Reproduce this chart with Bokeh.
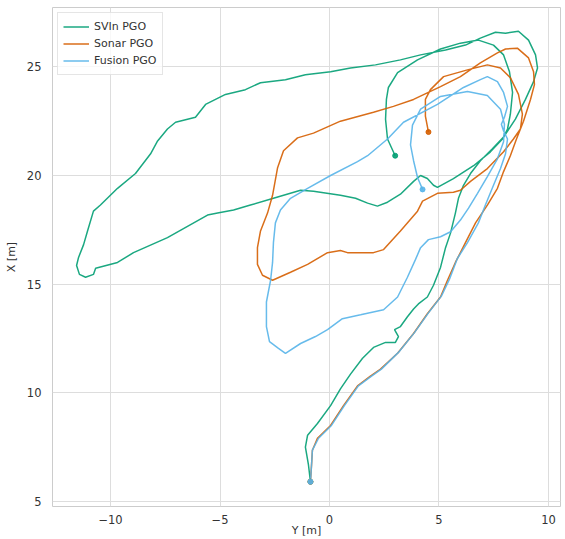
from bokeh.plotting import figure
from bokeh.embed import file_html
from bokeh.resources import INLINE
from bokeh.models import FixedTicker

# ---- data (Y [m] on horizontal axis, X [m] on vertical axis) ----
svin_y = [-0.87, -0.96, -1.10, -1.00, -0.55, 0.05, 0.50, 0.96, 1.51, 2.01, 2.56, 3.01, 3.15, 2.97, 3.24,
          3.56, 3.84, 4.06, 4.47, 4.75, 5.07, 5.30, 5.53, 5.75, 5.89, 6.12, 6.44, 6.89, 7.44, 7.95,
          8.49, 8.95, 9.32, 9.50, 9.41, 9.09, 8.63, 8.04, 7.58, 6.89, 6.21, 5.30, 4.16, 3.24, 2.10,
          0.96, 0.05, -1.10, -2.01, -3.15, -3.84, -4.75, -5.66, -6.12, -7.03, -7.40, -7.85, -8.17, -8.86, -9.68,
          -10.46, -10.78, -11.05, -11.23, -11.46, -11.55, -11.42, -11.14, -10.78, -10.68, -9.68, -8.95, -7.40, -5.57, -5.11,
          -4.38, -3.61, -2.56, -1.32, -0.73, 0.50, 1.19, 1.74, 2.19, 2.65, 3.24, 3.84, 4.16, 4.47, 4.75,
          4.93, 5.66, 6.58, 7.35, 7.90, 8.13, 8.26, 8.36, 8.22, 7.95, 7.49, 6.80, 5.98, 5.07, 4.02,
          3.11, 2.69, 2.60, 2.56, 2.65, 3.00]
svin_x = [5.91, 6.68, 7.50, 8.05, 8.59, 9.41, 10.18, 10.86, 11.59, 12.09, 12.32, 12.32, 12.59, 12.91, 13.05,
          13.50, 13.86, 14.09, 14.41, 14.95, 15.77, 16.68, 17.36, 18.27, 18.95, 19.55, 20.09, 20.68, 21.23, 21.77,
          22.59, 23.50, 24.32, 24.95, 25.55, 26.23, 26.64, 26.55, 26.59, 26.32, 26.00, 25.77, 25.55, 25.32, 25.09,
          24.95, 24.77, 24.64, 24.41, 24.27, 23.95, 23.73, 23.27, 22.68, 22.45, 22.14, 21.59, 21.00, 20.09, 19.41,
          18.64, 18.36, 17.45, 16.82, 16.23, 15.86, 15.45, 15.32, 15.45, 15.73, 16.00, 16.45, 17.14, 18.18, 18.27,
          18.41, 18.64, 18.95, 19.32, 19.27, 19.09, 18.95, 18.73, 18.59, 18.77, 19.14, 19.73, 20.00, 19.86, 19.55,
          19.45, 19.86, 20.45, 21.09, 21.68, 22.14, 22.82, 23.82, 24.77, 25.55, 26.00, 26.23, 26.09, 25.82, 25.32,
          24.73, 24.05, 23.50, 22.59, 21.68, 20.91]

sonar_y = [-0.87, -0.82, -0.78, -0.55, 0.05, 0.64, 1.28, 1.87, 2.33, 3.11, 3.84, 4.47, 5.07, 5.39, 5.75,
           6.21, 6.67, 7.21, 7.67, 7.95, 8.26, 8.54, 8.86, 9.18, 9.36, 9.32, 9.09, 8.58, 8.04, 7.67,
           6.89, 5.98, 5.07, 3.84, 2.92, 2.01, 0.50, -0.73, -1.46, -2.10, -2.37, -2.60, -2.83, -3.15, -3.29,
           -3.29, -3.06, -2.60, -1.78, -1.00, -0.09, 0.50, 0.82, 2.01, 2.47, 3.24, 4.02, 4.25, 4.93, 5.66,
           5.98, 6.44, 7.21, 7.95, 8.40, 8.72, 8.81, 8.63, 8.26, 7.81, 7.21, 6.30, 5.21, 4.61, 4.38,
           4.38, 4.52]
sonar_x = [5.91, 6.68, 7.36, 7.91, 8.50, 9.41, 10.32, 10.77, 11.09, 11.82, 12.73, 13.64, 14.41, 15.18, 16.00,
           16.91, 17.82, 18.64, 19.41, 20.18, 20.91, 21.68, 22.50, 23.50, 24.18, 24.77, 25.41, 25.86, 25.82, 25.64,
           25.18, 24.55, 24.09, 23.50, 23.18, 22.91, 22.50, 21.95, 21.73, 21.14, 20.36, 19.09, 18.27, 17.45, 16.68,
           15.91, 15.41, 15.18, 15.55, 15.91, 16.45, 16.55, 16.45, 16.45, 16.59, 17.45, 18.36, 18.82, 19.18, 19.23,
           19.32, 19.73, 20.32, 21.09, 21.68, 22.14, 22.82, 23.73, 24.50, 24.95, 25.09, 24.86, 24.55, 23.95, 23.50,
           22.73, 22.00]

fusion_y = [-0.87, -0.82, -0.78, -0.50, 0.09, 0.68, 1.32, 1.92, 2.37, 3.15, 3.88, 4.52, 5.11, 5.48, 5.84,
            6.30, 6.80, 7.12, 7.49, 7.81, 8.04, 8.13, 7.95, 7.85, 7.99, 8.13, 7.95, 7.67, 7.21, 6.89,
            6.12, 4.93, 3.38, 2.65, 1.74, 1.28, 0.05, -1.00, -1.78, -2.24, -2.47, -2.56, -2.60, -2.69, -2.88,
            -2.88, -2.74, -2.33, -2.01, -1.32, -0.64, -0.09, 0.59, 1.42, 2.47, 3.11, 3.56, 3.93, 4.16, 4.52,
            5.07, 5.53, 5.98, 6.35, 6.76, 7.21, 7.67, 7.95, 7.99, 7.81, 7.21, 6.30, 5.07, 4.16, 3.79,
            3.70, 3.84, 4.02, 4.25]
fusion_x = [5.91, 6.68, 7.36, 7.91, 8.50, 9.41, 10.32, 10.77, 11.09, 11.86, 12.77, 13.68, 14.45, 15.23, 16.18,
            16.91, 17.82, 18.64, 19.55, 20.32, 21.00, 21.68, 22.05, 22.36, 22.68, 23.18, 23.82, 24.32, 24.55, 24.41,
            24.05, 23.27, 22.45, 21.68, 20.91, 20.64, 20.00, 19.41, 18.95, 18.41, 17.82, 16.91, 16.00, 15.18, 14.18,
            13.05, 12.36, 12.05, 11.82, 12.27, 12.59, 12.91, 13.41, 13.59, 13.82, 14.41, 15.32, 16.14, 16.68, 17.05,
            17.18, 17.41, 17.95, 18.50, 19.18, 19.95, 20.77, 21.55, 22.36, 23.05, 23.68, 23.86, 23.64, 23.05, 22.32,
            21.41, 20.68, 19.91, 19.36]

labels = ["SVIn PGO", "Sonar PGO", "Fusion PGO"]
colors = ["#029e73", "#d55e00", "#56b4e9"]
x_ticks = [-10, -5, 0, 5, 10]
y_ticks = [5, 10, 15, 20, 25]
x_label = "Y [m]"
y_label = "X [m]"

FONT = "DejaVu Sans"
X0, X1 = -12.65, 10.55

p = figure(width=565, height=539, x_range=(X0, X1), y_range=(4.77, 27.73),
           output_backend="svg", toolbar_location=None,
           min_border_left=52, min_border_right=5, min_border_top=7, min_border_bottom=27)

series = [(svin_y, svin_x), (sonar_y, sonar_x), (fusion_y, fusion_x)]
for (yy, xx), lab, col in zip(series, labels, colors):
    p.line(yy, xx, line_color=col, line_width=1.5, line_alpha=0.9, legend_label=lab)
for (yy, xx), col in zip(series, colors):
    p.scatter([yy[0], yy[-1]], [xx[0], xx[-1]], size=5, fill_color=col, line_color=col, alpha=0.9)

p.xaxis.ticker = FixedTicker(ticks=x_ticks)
p.yaxis.ticker = FixedTicker(ticks=y_ticks)
p.xaxis.axis_label = x_label
p.yaxis.axis_label = y_label
for ax in (p.xaxis, p.yaxis):
    ax.axis_line_color = None
    ax.major_tick_line_color = None
    ax.minor_tick_line_color = None
    ax.major_label_text_font = FONT
    ax.major_label_text_font_size = "11.5px"
    ax.major_label_text_color = "#333333"
    ax.axis_label_text_font = FONT
    ax.axis_label_text_font_size = "11px"
    ax.axis_label_text_font_style = "normal"
    ax.axis_label_text_color = "#333333"
p.xaxis.major_label_standoff = 2
p.xaxis.axis_label_standoff = -3
p.yaxis.major_label_standoff = 5
p.yaxis.axis_label_standoff = 6

p.xgrid.grid_line_color = "#dddddd"
p.ygrid.grid_line_color = "#dddddd"
p.outline_line_color = "#cccccc"
p.background_fill_color = "white"
p.border_fill_color = "white"

p.legend.location = "top_left"
p.legend.margin = 5
p.legend.padding = 5
p.legend.spacing = 0
p.legend.label_text_font = FONT
p.legend.label_text_font_size = "11px"
p.legend.label_text_color = "#333333"
p.legend.glyph_width = 26
p.legend.glyph_height = 17
p.legend.label_height = 17
p.legend.border_line_color = "#cccccc"
p.legend.background_fill_alpha = 0.8

open("out.html", "w").write(file_html(p, INLINE))
